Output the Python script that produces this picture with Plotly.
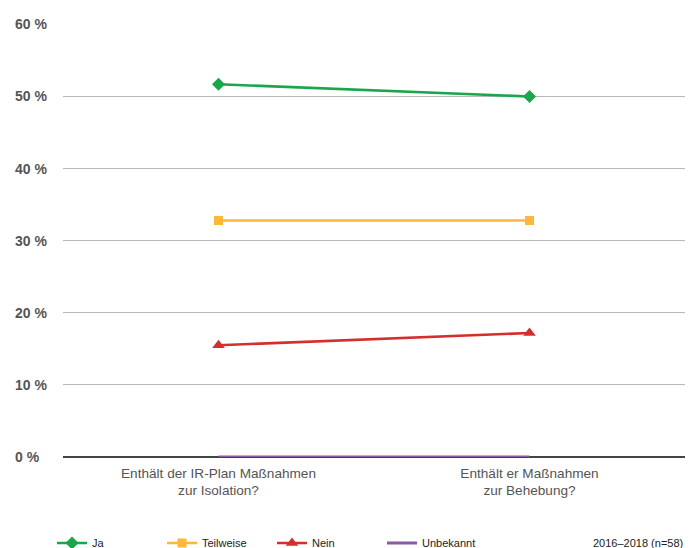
import plotly.graph_objects as go

# Survey questions (x categories)
questions = [
    "Enthält der IR-Plan Maßnahmen<br>zur Isolation?",
    "Enthält er Maßnahmen<br>zur Behebung?",
]

# Share of answers in percent (n=58)
ja = [51.7, 50.0]
teilweise = [32.8, 32.8]
nein = [15.5, 17.2]
unbekannt = [0.0, 0.0]

y_ticks = [0, 10, 20, 30, 40, 50, 60]
y_tick_labels = ["0 %", "10 %", "20 %", "30 %", "40 %", "50 %", "60 %"]
footnote = "2016–2018 (n=58)"

FONT = "Liberation Sans, Arial, sans-serif"
TEXT_GREY = "#555555"

series = [
    ("Ja", ja, "#1aa64a", "diamond", 10),
    ("Teilweise", teilweise, "#fbb83a", "square", 9),
    ("Nein", nein, "#d52f2d", "triangle-up", 11),
]

fig = go.Figure()
for name, vals, color, symbol, size in series:
    fig.add_trace(go.Scatter(
        x=[0, 1], y=vals, name=name, mode="lines+markers",
        line=dict(color=color, width=2.6),
        marker=dict(symbol=symbol, size=size, color=color),
        cliponaxis=False,
    ))
fig.add_trace(go.Scatter(
    x=[0, 1], y=unbekannt, name="Unbekannt", mode="lines",
    line=dict(color="#8a5aa3", width=3),
    cliponaxis=False,
))

# Left-aligned percentage labels for the value axis
for v, t in zip(y_ticks, y_tick_labels):
    fig.add_annotation(
        x=-0.0805, xref="paper", xanchor="left",
        y=v, yref="y", yanchor="middle",
        text=t, showarrow=False,
        font=dict(family=FONT, size=14, color=TEXT_GREY, weight="bold"),
    )

fig.add_annotation(
    x=1.0, xref="paper", xanchor="right",
    y=-0.198, yref="paper", yanchor="middle",
    text=footnote, showarrow=False,
    font=dict(family=FONT, size=11, color="#222222"),
)

fig.update_layout(
    width=695, height=548,
    margin=dict(l=63, r=10, t=24, b=91),
    paper_bgcolor="white", plot_bgcolor="white",
    font=dict(family=FONT, color=TEXT_GREY),
    showlegend=True,
    legend=dict(
        orientation="h",
        xref="container", yref="container",
        x=52 / 695, xanchor="left",
        y=5 / 548, yanchor="middle",
        entrywidth=65, entrywidthmode="pixels",
        font=dict(family=FONT, size=11, color="#222222"),
        itemwidth=30,
        traceorder="normal",
    ),
    xaxis=dict(
        range=[-0.5, 1.5],
        tickmode="array", tickvals=[0, 1], ticktext=questions,
        showgrid=False, zeroline=False, showline=False,
        ticks="", ticklabelstandoff=6,
        tickfont=dict(family=FONT, size=13.6, color=TEXT_GREY),
        fixedrange=True,
    ),
    yaxis=dict(
        range=[0, 60.05],
        tickmode="array", tickvals=y_ticks,
        showticklabels=False,
        showgrid=True, gridcolor="#b8b8b8", gridwidth=1,
        zeroline=True, zerolinecolor="#444444", zerolinewidth=1.5,
        showline=False, ticks="",
        fixedrange=True,
    ),
)

fig.write_html("out.html")
